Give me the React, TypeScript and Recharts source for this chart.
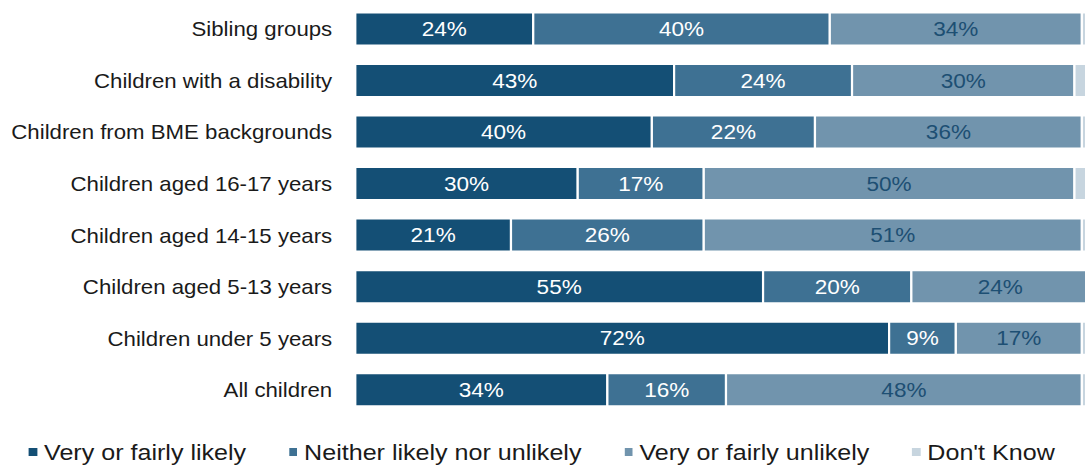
import { BarChart, Bar, XAxis, YAxis, Legend, LabelList } from 'recharts';

const categories = [
  'Sibling groups',
  'Children with a disability',
  'Children from BME backgrounds',
  'Children aged 16-17 years',
  'Children aged 14-15 years',
  'Children aged 5-13 years',
  'Children under 5 years',
  'All children',
];

const likely = [24, 43, 40, 30, 21, 55, 72, 34];
const neither = [40, 24, 22, 17, 26, 20, 9, 16];
const unlikely = [34, 30, 36, 50, 51, 24, 17, 48];
const dontKnow = [2, 3, 2, 3, 2, 1, 2, 2];

const series = [
  { key: 'likely', name: 'Very or fairly likely', color: '#144f75', labelColor: '#ffffff', label: true },
  { key: 'neither', name: 'Neither likely nor unlikely', color: '#3e7193', labelColor: '#ffffff', label: true },
  { key: 'unlikely', name: 'Very or fairly unlikely', color: '#7194ad', labelColor: '#1d4f73', label: true },
  { key: 'dontKnow', name: "Don't Know", color: '#c7d5df', labelColor: '#1d4f73', label: false },
];

const data = categories.map((name, i) => ({
  name,
  likely: likely[i],
  neither: neither[i],
  unlikely: unlikely[i],
  dontKnow: dontKnow[i],
}));

const FONT = '"Liberation Sans", Arial, sans-serif';

function LegendBox() {
  return (
    <div style={{ display: 'flex', gap: 39, alignItems: 'center', fontFamily: FONT, fontSize: 22.8, lineHeight: '24px', color: '#1a1a1a' }}>
      {series.map(s => (
        <div key={s.key} style={{ display: 'flex', alignItems: 'center' }}>
          <span style={{ width: 7.3, height: 8, background: s.color, marginRight: 6.4, display: 'inline-block' }} />
          <span style={{ whiteSpace: 'nowrap' }}>{s.name}</span>
        </div>
      ))}
    </div>
  );
}

export default function App() {
  return (
    <div style={{ position: 'fixed', left: 0, top: 0, width: 1085, height: 466, overflow: 'hidden', background: '#fff' }}>
      <div style={{ transform: 'scaleX(1.1)', transformOrigin: '0 0', width: 998 }}>
        <BarChart
          width={998}
          height={466}
          data={data}
          layout="vertical"
          margin={{ top: 3.5, right: 1, bottom: 50.3, left: 0 }}
          barSize={33}
        >
          <XAxis type="number" domain={[0, 100]} hide />
          <YAxis
            type="category"
            dataKey="name"
            width={323}
            axisLine={false}
            tickLine={false}
            tickSize={0}
            tickMargin={21}
            tick={{ fill: '#1a1a1a', fontSize: 20.2, fontFamily: FONT }}
          />
          <Legend
            layout="horizontal"
            verticalAlign="middle"
            align="center"
            content={() => <LegendBox />}
            wrapperStyle={{ top: 440, left: 26.4, width: 'auto' }}
          />
          {series.map(s => (
            <Bar
              key={s.key}
              dataKey={s.key}
              name={s.name}
              stackId="a"
              fill={s.color}
              stroke="#ffffff"
              strokeWidth={2}
              isAnimationActive={false}
            >
              {s.label && (
                <LabelList
                  dataKey={s.key}
                  position="center"
                  formatter={(v: number) => `${v}%`}
                  fill={s.labelColor}
                  fontSize={20.5}
                  fontFamily={FONT}
                />
              )}
            </Bar>
          ))}
        </BarChart>
      </div>
    </div>
  );
}
